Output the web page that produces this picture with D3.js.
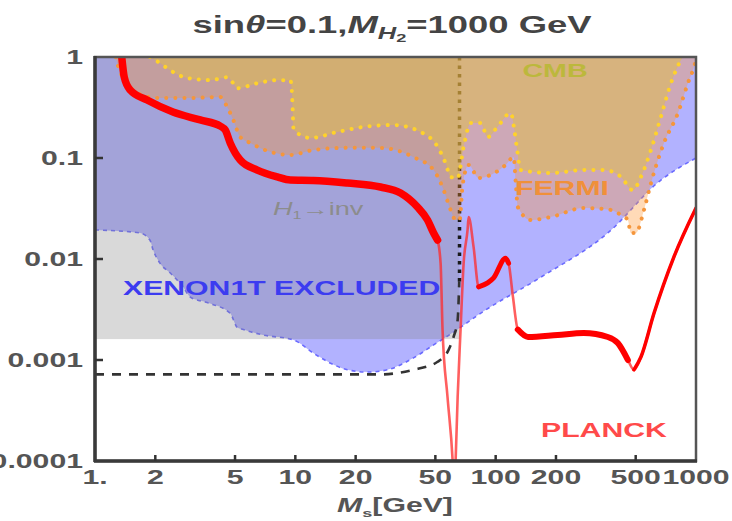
<!DOCTYPE html>
<html>
<head>
<meta charset="utf-8">
<script src="https://cdn.jsdelivr.net/npm/d3@7"></script>
<style>
body { margin: 0; background: #fff; }
text { font-family: "Liberation Sans", Arial, sans-serif; }
</style>
</head>
<body>
<svg id="chart" width="732" height="521"></svg>
<script>
// axis ticks
var xTicks = [1, 2, 5, 10, 20, 50, 100, 200, 500, 1000];
var xTickLabels = ["1.", "2", "5", "10", "20", "50", "100", "200", "500", "1000"];
var yTicks = [0.0001, 0.001, 0.01, 0.1, 1];
var yTickLabels = ["0.0001", "0.001", "0.01", "0.1", "1"];

// XENON1T lower edge [Ms, lambda]
var xenonBound = [[1,0.0194],[1.68,0.0181],[1.88,0.0154],[1.95,0.0123],[2.11,0.0091],[2.37,0.0073],
  [2.75,0.0053],[2.99,0.0042],[3.63,0.0037],[4.73,0.0029],[5.13,0.0021],[5.5,0.0020],[6.9,0.00177],
  [9.8,0.00158],[12.3,0.00117],[15,0.00093],[18.2,0.0008],[22.9,0.00076],[28.8,0.0008],[38.9,0.00105],
  [49,0.00141],[61.7,0.00189],[84,0.0029],[168,0.0066],[363,0.0181],[668,0.0605],[1000,0.1]];

// H1 -> inv excluded box: mass range and lower coupling
var invMassMax = 66;
var invCouplingMin = 0.00161;

// FERMI lower edge
var fermiBound = [[1.27,1],[1.29,0.87],[1.45,0.553],[1.62,0.44],[2.04,0.393],[2.99,0.393],[4.22,0.402],
  [4.57,0.32],[4.9,0.238],[5.31,0.161],[5.96,0.141],[7.5,0.115],[9.44,0.107],[12.3,0.12],[18.2,0.126],
  [26.6,0.126],[38.9,0.102],[49,0.076],[55,0.0482],[59.6,0.0306],[63.1,0.0243],[66.1,0.0243],[68.4,0.054],
  [73.3,0.0853],[82.2,0.0634],[94.4,0.068],[112,0.0853],[123,0.102],[126,0.0565],[129,0.0327],[150,0.0243],
  [188,0.026],[275,0.032],[376,0.0306],[422,0.0273],[457,0.0243],[473,0.0181],[501,0.0181],[550,0.0306],
  [596,0.0565],[692,0.141],[813,0.279],[912,0.553],[977,0.796],[1000,0.934]];

// CMB lower edge
var cmbBound = [[1.88,1],[2.11,0.87],[2.37,0.74],[2.88,0.62],[3.76,0.59],[4.6,0.63],[4.9,0.55],[5.13,0.49],
  [6.46,0.55],[8.13,0.59],[9.44,0.59],[9.6,0.47],[9.7,0.3],[9.8,0.19],[11.9,0.158],[16.2,0.181],[21.9,0.203],
  [30.9,0.212],[42.2,0.181],[51.3,0.129],[56.2,0.089],[59.6,0.065],[64.6,0.063],[69.2,0.129],[75,0.222],
  [84.1,0.222],[91.2,0.161],[102,0.203],[119,0.279],[124,0.189],[128,0.12],[133,0.076],[188,0.071],
  [275,0.076],[347,0.076],[422,0.065],[484,0.048],[531,0.065],[596,0.12],[668,0.255],[750,0.55],
  [841,0.93],[861,1]];

// PLANCK relic density curve
var planckCurve = [[1.36,1.0],[1.40,0.63],[1.5,0.47],[1.82,0.375],[2.45,0.285],[3.35,0.238],[4.22,0.207],
  [4.47,0.189],[4.73,0.141],[5.31,0.0955],[6.46,0.076],[8.13,0.065],[9.44,0.0605],[12.3,0.06],[18.2,0.0565],
  [26.6,0.0516],[33.5,0.045],[40.7,0.0327],[45.7,0.0243],[49,0.0181],[51.3,0.0154],[53.1,0.0091],
  [54.3,0.002],[57.5,0.00043],[61,0.0001],[62,0.00005],[63.1,0.0001],[64.6,0.00043],[66.8,0.002],
  [69.2,0.0091],[72.4,0.0194],[73.3,0.026],[77.6,0.0131],[82.2,0.0053],[91.2,0.0058],[97.7,0.0065],
  [112,0.0102],[116,0.0091],[122,0.0042],[129,0.002],[145,0.00169],[204,0.00177],[275,0.00185],
  [363,0.00169],[407,0.00147],[457,0.001],[490,0.0008],[531,0.00107],[617,0.0029],[776,0.0105],[1000,0.032]];

// H1 invisible width bound (dashed)
var brCurve = [[1,0.00072],[26.6,0.00072],[38.9,0.0008],[51.3,0.00096],[58.2,0.00126],[61.7,0.0017],
  [64.6,0.0025],[65.8,0.006]];

var SX = 1.55; // text in the picture is stretched horizontally

var svg = d3.select("#chart");
var x = d3.scaleLog().domain([1, 1000]).range([95, 696]);
var y = d3.scaleLog().domain([0.0001, 1]).range([461, 57]);

svg.append("defs").append("clipPath").attr("id", "plotClip")
  .append("rect").attr("x", 95).attr("y", 57).attr("width", 601).attr("height", 404);

var plot = svg.append("g").attr("clip-path", "url(#plotClip)");

var line = d3.line().x(function(d) { return x(d[0]); }).y(function(d) { return y(d[1]); })
  .curve(d3.curveMonotoneX);
var above = d3.area().x(function(d) { return x(d[0]); }).y0(y(1)).y1(function(d) { return y(d[1]); })
  .curve(d3.curveMonotoneX);

// XENON1T region
plot.append("path").attr("d", above(xenonBound)).attr("fill", "#b2b2ff");
plot.append("path").attr("d", line(xenonBound)).attr("fill", "none")
  .attr("stroke", "#6a6aff").attr("stroke-width", 1.6).attr("stroke-dasharray", "4,4");

// H1 -> inv region
plot.append("rect")
  .attr("x", x(1)).attr("y", y(1))
  .attr("width", x(invMassMax) - x(1)).attr("height", y(invCouplingMin) - y(1))
  .attr("fill", "#808080").attr("fill-opacity", 0.3);

// black limit lines (under CMB/FERMI shading)
plot.append("path").attr("d", line(brCurve)).attr("fill", "none")
  .attr("stroke", "#333").attr("stroke-width", 2.6).attr("stroke-dasharray", "9,8");
plot.append("line")
  .attr("x1", x(invMassMax)).attr("x2", x(invMassMax))
  .attr("y1", y(0.006)).attr("y2", y(1))
  .attr("stroke", "#1a1a1a").attr("stroke-width", 3.5).attr("stroke-dasharray", "3.5,5");

// FERMI
plot.append("path").attr("d", above(fermiBound)).attr("fill", "rgb(255,150,50)").attr("fill-opacity", 0.35);
// CMB
plot.append("path").attr("d", above(cmbBound)).attr("fill", "rgb(225,190,70)").attr("fill-opacity", 0.5);

plot.append("path").attr("d", line(fermiBound)).attr("fill", "none")
  .attr("stroke", "#f5963c").attr("stroke-width", 4).attr("stroke-linecap", "round")
  .attr("stroke-dasharray", "0.1,9");
plot.append("path").attr("d", line(cmbBound)).attr("fill", "none")
  .attr("stroke", "#ffd22a").attr("stroke-width", 4).attr("stroke-linecap", "round")
  .attr("stroke-dasharray", "0.1,9");

// PLANCK curve, thin everywhere then thick where the band is wide
plot.append("path").attr("d", line(planckCurve)).attr("fill", "none")
  .attr("stroke", "#ff2a2a").attr("stroke-opacity", 0.75).attr("stroke-width", 2.6);
var thick = [[1, 52, 7.5], [80, 117, 5], [128, 470, 6], [470, 1000, 3.5]];
thick.forEach(function(t) {
  var pts = planckCurve.filter(function(d) { return d[0] >= t[0] && d[0] <= t[1]; });
  plot.append("path").attr("d", line(pts)).attr("fill", "none")
    .attr("stroke", "#ff0000").attr("stroke-width", t[2])
    .attr("stroke-linejoin", "round").attr("stroke-linecap", "round");
});

// frame
svg.append("rect").attr("x", 95).attr("y", 57).attr("width", 601).attr("height", 404)
  .attr("fill", "none").attr("stroke", "#555").attr("stroke-width", 2.5);
svg.append("line").attr("x1", 95).attr("x2", 95).attr("y1", 56).attr("y2", 462)
  .attr("stroke", "#3a3a3a").attr("stroke-width", 3.5);
svg.append("line").attr("x1", 94).attr("x2", 697).attr("y1", 461).attr("y2", 461)
  .attr("stroke", "#3a3a3a").attr("stroke-width", 3.5);

// text helper: parts are [string, italic, dy, sizeFactor]
function addText(px, py, anchor, size, color, weight, parts) {
  var t = svg.append("text")
    .attr("transform", "translate(" + px + "," + py + ") scale(" + SX + ",1)")
    .attr("text-anchor", anchor).attr("font-size", size)
    .attr("fill", color).attr("font-weight", weight);
  parts.forEach(function(p) {
    var s = t.append("tspan").text(p[0]);
    if (p[1]) s.attr("font-style", "italic");
    if (p[2]) s.attr("dy", p[2]);
    if (p[3]) s.attr("font-size", size * p[3]);
  });
  return t;
}

// ticks
xTicks.forEach(function(v, i) {
  if (i > 0 && i < xTicks.length - 1) {
    svg.append("line").attr("x1", x(v)).attr("x2", x(v)).attr("y1", 461).attr("y2", 455)
      .attr("stroke", "#333").attr("stroke-width", 2.5);
  }
  addText(x(v), 484, "middle", 19.5, "#555", "bold", [[xTickLabels[i]]]);
});
yTicks.forEach(function(v, i) {
  if (i > 0 && i < yTicks.length - 1) {
    svg.append("line").attr("x1", 95).attr("x2", 103).attr("y1", y(v)).attr("y2", y(v))
      .attr("stroke", "#333").attr("stroke-width", 2.5);
  }
  addText(83, y(v) + 7, "end", 19.5, "#555", "bold", [[yTickLabels[i]]]);
});

// title and axis label
addText(392, 33, "middle", 23.5, "#444", "bold",
  [["sin"], ["θ", true], ["=0.1,"], ["M", true], ["H", true, 6, 0.7], ["2", false, 3, 0.5], ["=1000 GeV", false, -9]]);
addText(395, 512, "middle", 19.5, "#555", "bold",
  [["M", true], ["s", false, 5, 0.6], ["[GeV]", false, -5]]);

// region labels
addText(555, 77, "middle", 18.5, "#bcb83c", "bold", [["CMB"]]);
addText(515, 195, "start", 19.5, "#f0903a", "bold", [["FERMI"]]);
addText(273, 215, "start", 17.5, "#8c8c8c", "normal", [["H", true], ["1", false, 4, 0.6], ["→inv", false, -4]]);
addText(123, 295, "start", 19.5, "#3c3cf0", "bold", [["XENON1T EXCLUDED"]]);
addText(541, 437, "start", 19.5, "#ff4a4a", "bold", [["PLANCK"]]);
</script>
</body>
</html>
